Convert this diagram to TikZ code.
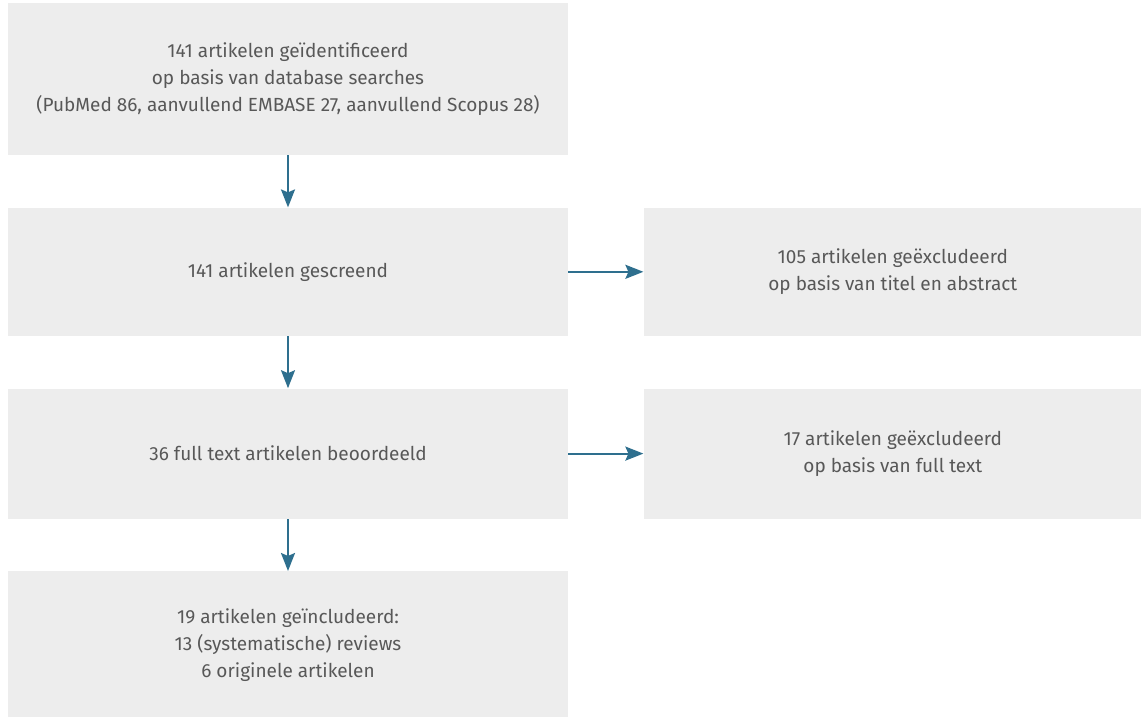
\documentclass[tikz,border=0pt]{standalone}
\usepackage{fontspec}
\setmainfont{Fira Sans}
\usetikzlibrary{arrows.meta,positioning}
\definecolor{colVak}{RGB}{237,237,237}
\definecolor{colTekst}{RGB}{88,88,88}
\definecolor{colPijl}{RGB}{46,111,142}

\begin{document}
\begin{tikzpicture}[font=\fontsize{9.5}{13.5}\selectfont, text=colTekst,
    vak/.style={rectangle, fill=colVak, align=center, inner sep=0pt,
      minimum width=280pt},
    uit/.style={rectangle, fill=colVak, align=center, inner sep=0pt,
      minimum width=249pt},
    pl/.style={-{Stealth[length=9pt, width=7pt, inset=1.5pt]}, line width=1pt,
      colPijl}]
    \useasboundingbox (0,0) rectangle (570.5pt,-358.5pt);
    \node[vak, minimum height=76pt] (id) at (144pt,-39.5pt)
      {141 artikelen geïdentificeerd\\ op basis van database searches\\
       (PubMed 86, aanvullend EMBASE 27, aanvullend Scopus 28)};
    \node[vak, minimum height=64pt, below=26pt of id] (scr)
      {141 artikelen gescreend};
    \node[vak, minimum height=65pt, below=26pt of scr] (ft)
      {36 full text artikelen beoordeeld};
    \node[vak, minimum height=74pt, below=26pt of ft] (inc)
      {19 artikelen geïncludeerd:\\ 13 (systematische) reviews\\
       6 originele artikelen};
    \node[uit, minimum height=64pt, right=37.5pt of scr] (ex1)
      {105 artikelen geëxcludeerd\\ op basis van titel en abstract};
    \node[uit, minimum height=65pt, right=37.5pt of ft] (ex2)
      {17 artikelen geëxcludeerd\\ op basis van full text};
    \draw[pl] (id)--(scr);
    \draw[pl] (scr)--(ft);
    \draw[pl] (ft)--(inc);
    \draw[pl] (scr)--(ex1);
    \draw[pl] (ft)--(ex2);
  \end{tikzpicture}
\end{document}
